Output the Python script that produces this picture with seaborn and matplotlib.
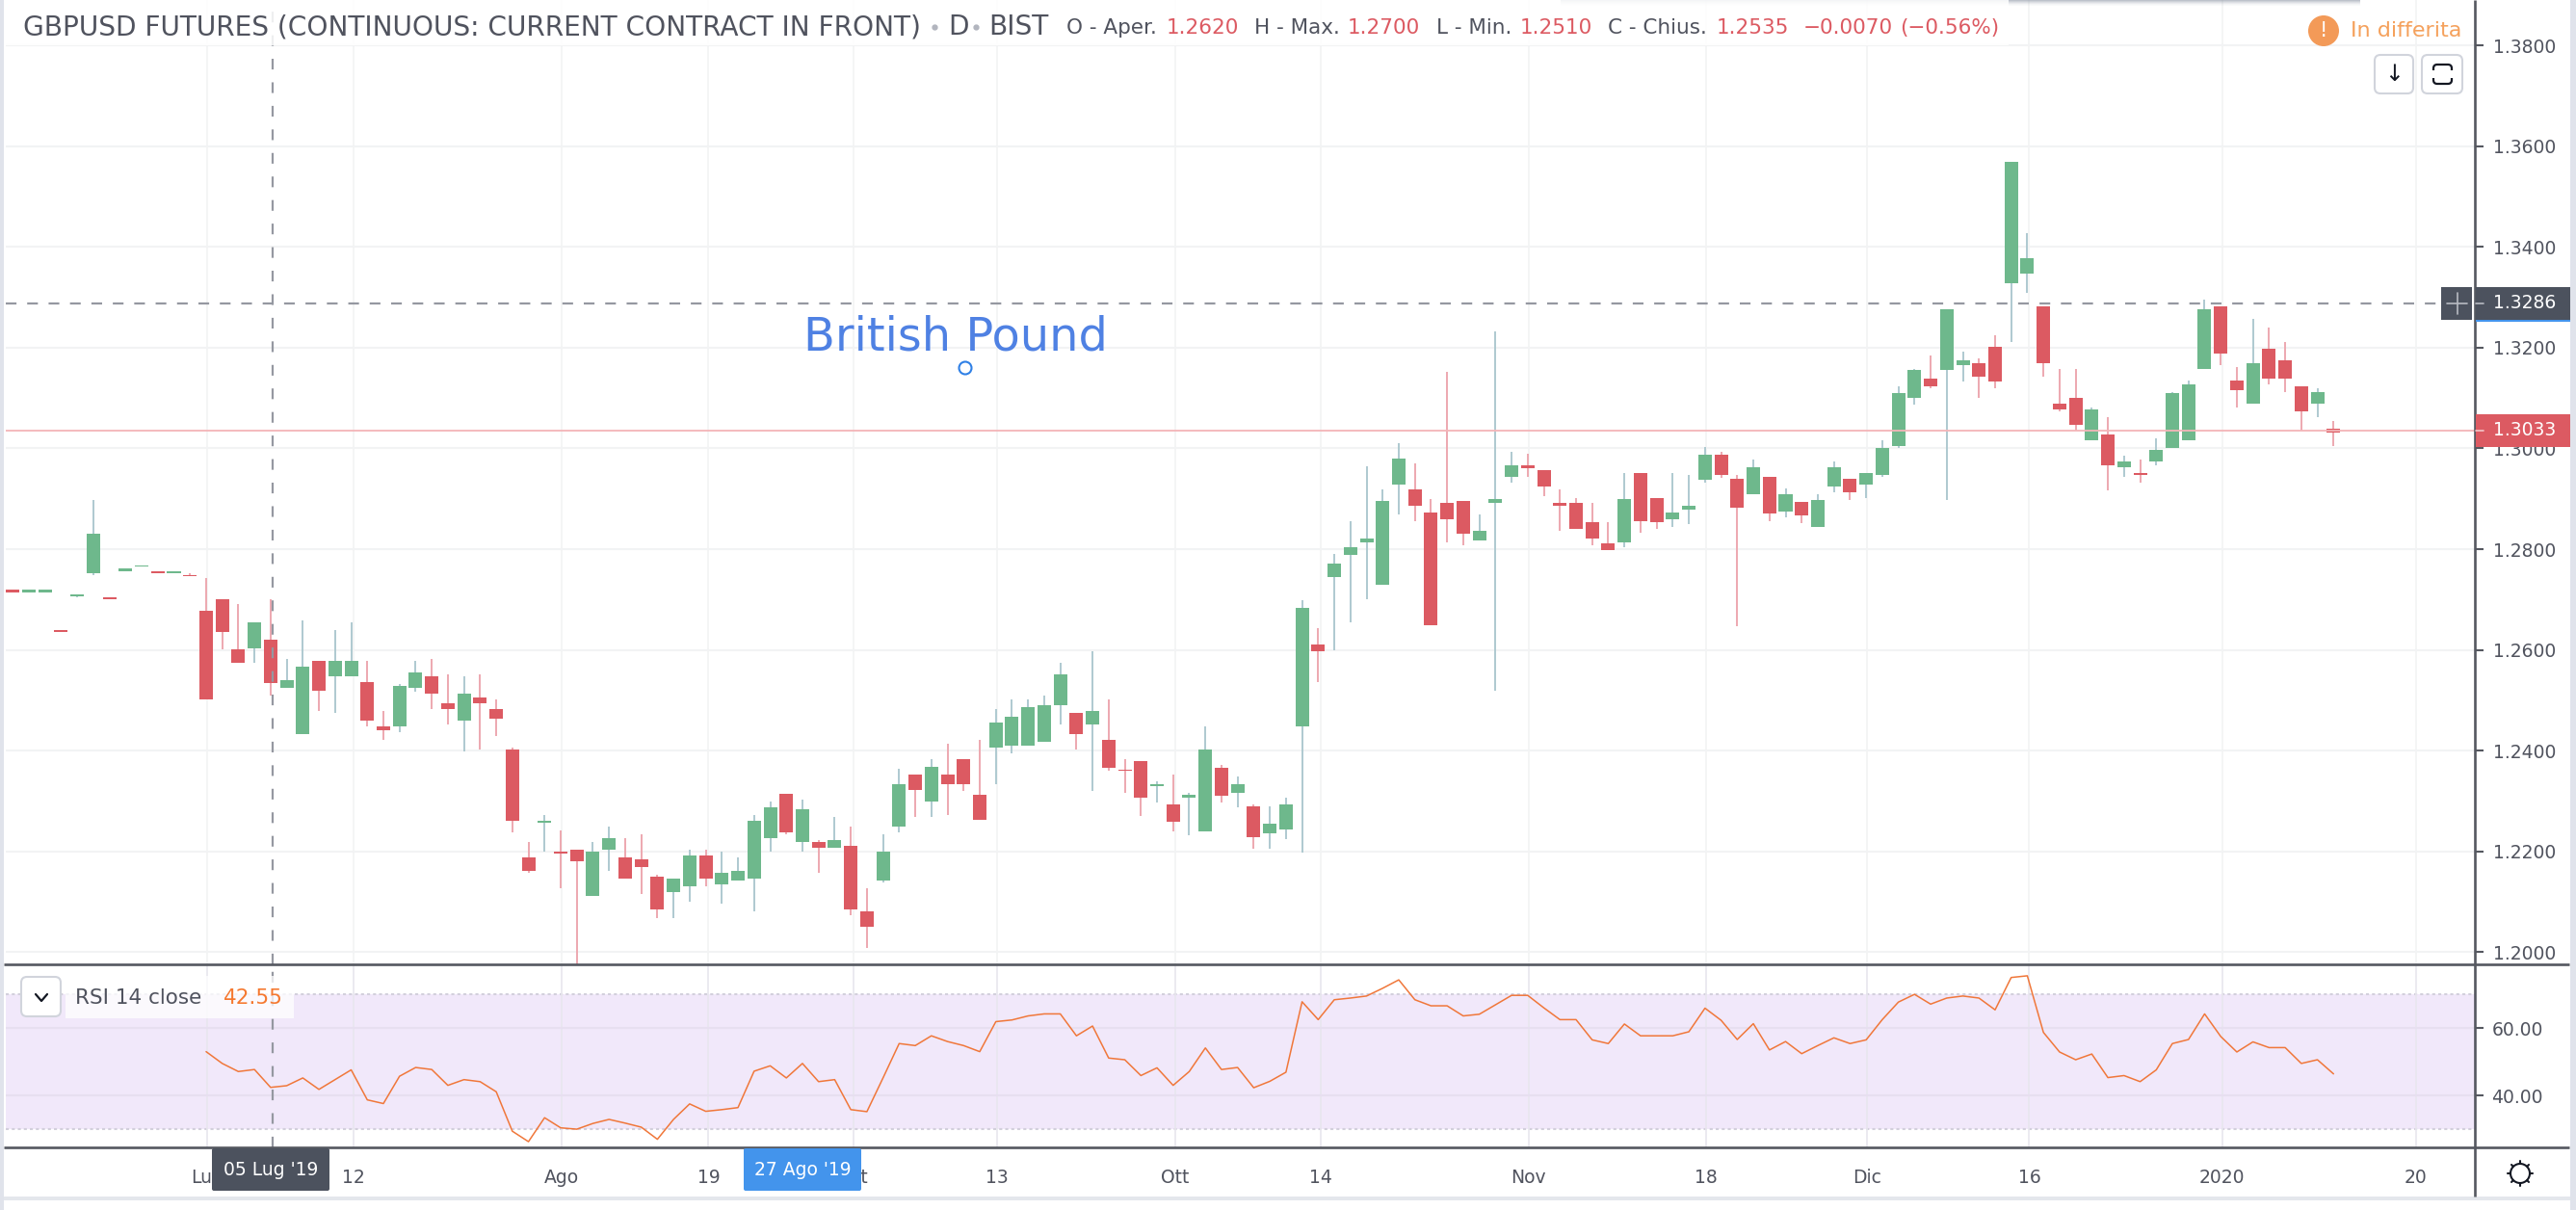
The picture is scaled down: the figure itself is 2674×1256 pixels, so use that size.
import pandas as pd
import matplotlib.pyplot as plt
from matplotlib.patches import FancyBboxPatch, Rectangle, Circle
import seaborn as sns

W, H = 2674, 1256

# daily candles
opens = [
    1.2719, 1.2715, 1.2715, 1.2639, 1.2707, 1.2753, 1.2704, 1.2757, 1.2765, 1.2757,
    1.2753, 1.2749, 1.2677, 1.2700, 1.2601, 1.2604, 1.2620, 1.2524, 1.2433, 1.2578,
    1.2547, 1.2547, 1.2536, 1.2448, 1.2448, 1.2524, 1.2547, 1.2494, 1.2459, 1.2505,
    1.2482, 1.2402, 1.2189, 1.2257, 1.2200, 1.2204, 1.2112, 1.2204, 1.2189, 1.2185,
    1.2150, 1.2120, 1.2131, 1.2192, 1.2135, 1.2143, 1.2147, 1.2227, 1.2314, 1.2219,
    1.2219, 1.2208, 1.2211, 1.2082, 1.2143, 1.2249, 1.2352, 1.2299, 1.2352, 1.2383,
    1.2313, 1.2406, 1.2410, 1.2410, 1.2417, 1.2490, 1.2475, 1.2452, 1.2421, 1.2363,
    1.2379, 1.2329, 1.2294, 1.2306, 1.2240, 1.2367, 1.2317, 1.2290, 1.2237, 1.2244,
    1.2448, 1.2610, 1.2745, 1.2788, 1.2814, 1.2730, 1.2929, 1.2918, 1.2872, 1.2891,
    1.2895, 1.2818, 1.2891, 1.2944, 1.2967, 1.2956, 1.2891, 1.2891, 1.2853, 1.2811,
    1.2814, 1.2952, 1.2902, 1.2860, 1.2879, 1.2937, 1.2987, 1.2940, 1.2909, 1.2944,
    1.2874, 1.2894, 1.2844, 1.2924, 1.2940, 1.2928, 1.2947, 1.3005, 1.3101, 1.3139,
    1.3155, 1.3166, 1.3170, 1.3201, 1.3327, 1.3346, 1.3281, 1.3089, 1.3101, 1.3017,
    1.3028, 1.2963, 1.2951, 1.2974, 1.3001, 1.3017, 1.3158, 1.3281, 1.3135, 1.3089,
    1.3197, 1.3174, 1.3124, 1.3089, 1.3040,
]
highs = [
    1.2719, 1.2719, 1.2719, 1.2639, 1.2711, 1.2898, 1.2704, 1.2761, 1.2768, 1.2757,
    1.2757, 1.2753, 1.2742, 1.2700, 1.2692, 1.2654, 1.2700, 1.2582, 1.2658, 1.2578,
    1.2639, 1.2654, 1.2578, 1.2478, 1.2532, 1.2578, 1.2582, 1.2551, 1.2547, 1.2551,
    1.2501, 1.2406, 1.2219, 1.2272, 1.2242, 1.2204, 1.2219, 1.2249, 1.2227, 1.2234,
    1.2154, 1.2147, 1.2204, 1.2204, 1.2200, 1.2189, 1.2272, 1.2299, 1.2314, 1.2303,
    1.2223, 1.2269, 1.2249, 1.2128, 1.2234, 1.2364, 1.2352, 1.2383, 1.2413, 1.2383,
    1.2421, 1.2483, 1.2502, 1.2502, 1.2510, 1.2575, 1.2475, 1.2598, 1.2502, 1.2383,
    1.2379, 1.2340, 1.2352, 1.2317, 1.2448, 1.2371, 1.2348, 1.2294, 1.2290, 1.2306,
    1.2698, 1.2644, 1.2791, 1.2856, 1.2964, 1.2918, 1.3010, 1.2971, 1.2899, 1.3151,
    1.2895, 1.2868, 1.3232, 1.2994, 1.2990, 1.2956, 1.2918, 1.2902, 1.2891, 1.2853,
    1.2952, 1.2952, 1.2902, 1.2952, 1.2948, 1.3002, 1.2994, 1.2947, 1.2978, 1.2944,
    1.2921, 1.2894, 1.2909, 1.2974, 1.2940, 1.2951, 1.3017, 1.3124, 1.3158, 1.3185,
    1.3277, 1.3193, 1.3178, 1.3224, 1.3569, 1.3427, 1.3281, 1.3158, 1.3158, 1.3082,
    1.3063, 1.2986, 1.2978, 1.3020, 1.3112, 1.3135, 1.3296, 1.3281, 1.3162, 1.3258,
    1.3239, 1.3212, 1.3124, 1.3120, 1.3055,
]
lows = [
    1.2715, 1.2715, 1.2715, 1.2635, 1.2704, 1.2749, 1.2700, 1.2757, 1.2765, 1.2753,
    1.2753, 1.2746, 1.2501, 1.2601, 1.2574, 1.2574, 1.2510, 1.2524, 1.2433, 1.2478,
    1.2475, 1.2547, 1.2448, 1.2421, 1.2436, 1.2517, 1.2482, 1.2452, 1.2398, 1.2402,
    1.2429, 1.2238, 1.2158, 1.2200, 1.2128, 1.1975, 1.2112, 1.2162, 1.2147, 1.2116,
    1.2067, 1.2067, 1.2101, 1.2131, 1.2097, 1.2143, 1.2082, 1.2200, 1.2234, 1.2200,
    1.2158, 1.2208, 1.2074, 1.2009, 1.2139, 1.2238, 1.2269, 1.2269, 1.2272, 1.2321,
    1.2263, 1.2333, 1.2394, 1.2410, 1.2417, 1.2452, 1.2402, 1.2321, 1.2360, 1.2317,
    1.2271, 1.2298, 1.2240, 1.2233, 1.2240, 1.2298, 1.2287, 1.2206, 1.2206, 1.2225,
    1.2198, 1.2537, 1.2600, 1.2654, 1.2700, 1.2730, 1.2868, 1.2856, 1.2650, 1.2814,
    1.2807, 1.2818, 1.2520, 1.2933, 1.2944, 1.2906, 1.2837, 1.2841, 1.2807, 1.2799,
    1.2803, 1.2833, 1.2841, 1.2845, 1.2849, 1.2933, 1.2941, 1.2647, 1.2909, 1.2855,
    1.2863, 1.2851, 1.2844, 1.2913, 1.2897, 1.2901, 1.2944, 1.3001, 1.3086, 1.3120,
    1.2898, 1.3132, 1.3101, 1.3120, 1.3212, 1.3308, 1.3143, 1.3074, 1.3036, 1.3017,
    1.2917, 1.2944, 1.2932, 1.2967, 1.3001, 1.3017, 1.3158, 1.3166, 1.3082, 1.3089,
    1.3128, 1.3112, 1.3035, 1.3063, 1.3005,
]
closes = [
    1.2715, 1.2719, 1.2719, 1.2635, 1.2711, 1.2830, 1.2700, 1.2761, 1.2768, 1.2753,
    1.2757, 1.2746, 1.2501, 1.2635, 1.2574, 1.2654, 1.2535, 1.2540, 1.2566, 1.2520,
    1.2578, 1.2578, 1.2459, 1.2440, 1.2528, 1.2555, 1.2513, 1.2482, 1.2513, 1.2494,
    1.2463, 1.2261, 1.2162, 1.2261, 1.2196, 1.2181, 1.2200, 1.2227, 1.2147, 1.2169,
    1.2086, 1.2147, 1.2192, 1.2147, 1.2158, 1.2162, 1.2261, 1.2288, 1.2238, 1.2284,
    1.2208, 1.2223, 1.2086, 1.2051, 1.2200, 1.2333, 1.2322, 1.2368, 1.2333, 1.2333,
    1.2263, 1.2456, 1.2467, 1.2487, 1.2490, 1.2552, 1.2433, 1.2479, 1.2367, 1.2360,
    1.2306, 1.2333, 1.2260, 1.2313, 1.2402, 1.2310, 1.2333, 1.2229, 1.2256, 1.2294,
    1.2683, 1.2598, 1.2772, 1.2803, 1.2822, 1.2895, 1.2979, 1.2887, 1.2650, 1.2860,
    1.2830, 1.2837, 1.2899, 1.2967, 1.2960, 1.2925, 1.2887, 1.2841, 1.2822, 1.2799,
    1.2899, 1.2856, 1.2853, 1.2872, 1.2887, 1.2987, 1.2948, 1.2882, 1.2963, 1.2871,
    1.2909, 1.2867, 1.2897, 1.2963, 1.2913, 1.2951, 1.3001, 1.3109, 1.3155, 1.3124,
    1.3277, 1.3174, 1.3143, 1.3132, 1.3569, 1.3377, 1.3170, 1.3078, 1.3047, 1.3078,
    1.2967, 1.2974, 1.2948, 1.2997, 1.3109, 1.3128, 1.3277, 1.3189, 1.3116, 1.3170,
    1.3139, 1.3139, 1.3074, 1.3112, 1.3032,
]

# RSI starts on candle 12
rsi_start = 12
rsi_values = [
    53.0, 49.5, 47.1, 47.7, 42.4, 42.9, 45.2, 41.8, 44.7, 47.6,
    38.7, 37.6, 45.7, 48.3, 47.7, 43.0, 44.7, 44.1, 41.1, 29.4,
    26.3, 33.4, 30.4, 30.0, 31.7, 32.9, 31.8, 30.6, 27.0, 32.9,
    37.5, 35.3, 35.8, 36.4, 47.2, 48.8, 45.2, 49.5, 44.1, 44.7,
    35.8, 35.2, 45.2, 55.4, 54.8, 57.7, 56.0, 54.8, 53.0, 61.9,
    62.4, 63.6, 64.2, 64.2, 57.7, 60.6, 51.1, 50.6, 45.9, 48.2,
    43.0, 47.1, 54.1, 47.7, 48.3, 42.3, 44.2, 46.9, 67.8, 62.5,
    68.4, 68.9, 69.5, 71.8, 74.3, 68.4, 66.6, 66.6, 63.6, 64.1,
    66.9, 69.7, 69.7, 66.0, 62.5, 62.5, 56.5, 55.4, 61.2, 57.7,
    57.7, 57.7, 58.9, 65.9, 62.3, 56.6, 61.3, 53.5, 56.0, 52.4,
    54.8, 57.1, 55.4, 56.5, 62.5, 67.7, 70.0, 67.1, 68.9, 69.5,
    68.9, 65.4, 75.0, 75.5, 58.7, 52.9, 50.6, 52.3, 45.3, 45.9,
    44.1, 47.6, 55.4, 56.6, 64.2, 57.5, 52.9, 55.9, 54.2, 54.2,
    49.5, 50.6, 46.4,
]

# time axis, in candle positions
time_pos = [12.08, 21.17, 34.07, 43.17, 52.16, 61.08, 72.12, 81.14, 94.05, 105.04, 115.05, 125.12, 137.08, 149.12]
time_labels = ["Lug", "12", "Ago", "19", "Set", "13", "Ott", "14", "Nov", "18", "Dic", "16", "2020", "20"]

price_ticks = [1.20, 1.22, 1.24, 1.26, 1.28, 1.30, 1.32, 1.34, 1.36, 1.38]
rsi_ticks = [40, 60]

UP = "#6eb88c"
DOWN = "#dc5a62"
UP_WICK = "#aec9d0"
DOWN_WICK = "#eda8b0"
GRID = "#f2f3f4"
AXIS = "#555860"
TEXT = "#50535e"
DARK_TAG = "#4c525e"
BLUE_TAG = "#4394ec"
CROSS = "#9598a1"

candles = pd.DataFrame({"open": opens, "high": highs, "low": lows, "close": closes})
candles["pos"] = candles.index
candles["up"] = candles["close"] >= candles["open"]
rsi = pd.DataFrame({"pos": range(rsi_start, rsi_start + len(rsi_values)), "rsi": rsi_values})

sns.set_theme(style="white")
plt.rcParams["font.family"] = "DejaVu Sans"
fig = plt.figure(figsize=(W / 100, H / 100), dpi=100, facecolor="white")


def pane(x0, y0, x1, y1):
    return fig.add_axes([x0 / W, 1 - y1 / H, (x1 - x0) / W, (y1 - y0) / H])


# candle pane
ax = pane(6, 0, 2569, 1001)
x_lim = ((6 - 13.2) / 16.73, (2569 - 13.2) / 16.73)
ax.set_xlim(x_lim)
ax.set_ylim(1.19761, 1.38899)
ax.set_xticks(time_pos)
ax.set_xticklabels([])
ax.tick_params(axis="x", length=0)
ax.yaxis.tick_right()
ax.set_yticks(price_ticks)
ax.set_yticklabels([f"{t:.4f}" for t in price_ticks])
ax.tick_params(axis="y", length=6.5, width=1.5, color=AXIS, labelcolor=TEXT, labelsize=13.5, pad=7)
ax.grid(True, axis="y", color=GRID, lw=1.5)
ax.grid(True, axis="x", color=GRID, lw=1.2)
ax.set_axisbelow(True)
sns.despine(ax=ax, left=True, right=True, top=True, bottom=True)

for is_up, wick, body in [(True, UP_WICK, UP), (False, DOWN_WICK, DOWN)]:
    part = candles[candles["up"] == is_up]
    ax.vlines(part["pos"], part["low"], part["high"], color=wick, lw=1.4, zorder=2)
    ax.bar(part["pos"], (part["close"] - part["open"]).abs(), bottom=part[["open", "close"]].min(axis=1),
           width=0.837, color=body, lw=0, zorder=3)

# last price and crosshair
ax.axhline(1.3036, color="#f3b4b8", lw=1.3, zorder=4)
ax.plot([x_lim[0], (2534 - 13.2) / 16.73], [1.3288, 1.3288], color=CROSS, lw=1.6, dashes=(5, 5), zorder=4)
ax.axvline((283 - 13.2) / 16.73, color=CROSS, lw=1.6, dashes=(5, 6), zorder=4)

# RSI pane
ax_rsi = pane(6, 1001, 2569, 1191)
ax_rsi.set_xlim(x_lim)
ax_rsi.set_ylim(24.6, 78.9)
ax_rsi.axhspan(30, 70, color="#f1e8fa", lw=0, zorder=0)
for level in [30, 70]:
    ax_rsi.axhline(level, color="#d3d0dc", lw=1.5, dashes=(1.5, 1.5), zorder=1)
ax_rsi.set_xticks(time_pos)
ax_rsi.set_xticklabels(time_labels)
ax_rsi.yaxis.tick_right()
ax_rsi.set_yticks(rsi_ticks)
ax_rsi.set_yticklabels([f"{t:.2f}" for t in rsi_ticks])
ax_rsi.tick_params(axis="y", length=6.5, width=1.5, color=AXIS, labelcolor=TEXT, labelsize=13.5, pad=6)
ax_rsi.tick_params(axis="x", length=5.5, width=1.5, color=AXIS, labelcolor=TEXT, labelsize=13.5, pad=10)
ax_rsi.grid(True, axis="y", color="#e7dff0", lw=1.5, zorder=1)
ax_rsi.grid(True, axis="x", color="#e8e6ee", lw=1.2, zorder=1)
ax_rsi.set_axisbelow(False)
sns.lineplot(data=rsi, x="pos", y="rsi", color="#f0773a", lw=1.1, ax=ax_rsi, zorder=3)
ax_rsi.set_xlabel("")
ax_rsi.set_ylabel("")
ax_rsi.axvline((283 - 13.2) / 16.73, color=CROSS, lw=1.6, dashes=(5, 6), zorder=4)
sns.despine(ax=ax_rsi, left=True, right=True, top=True, bottom=True)

# everything around the panes, in image pixels
ui = fig.add_axes([0, 0, 1, 1], zorder=10)
ui.set_xlim(0, W)
ui.set_ylim(H, 0)
ui.axis("off")
ui.patch.set_alpha(0)


def box(x0, y0, x1, y1, color, alpha=1.0, zorder=2):
    ui.add_patch(Rectangle((x0, y0), x1 - x0, y1 - y0, fc=color, ec="none", alpha=alpha, zorder=zorder))


def button(x0, y0, x1, y1):
    ui.add_patch(FancyBboxPatch((x0 + 5, y0 + 5), x1 - x0 - 10, y1 - y0 - 10, boxstyle="round,pad=5,rounding_size=6",
                                fc="white", ec="#d1d4dc", lw=1.5, zorder=3))


# frame
box(0, 0, 4, H, "#e0e3eb", zorder=1)
box(2668, 0, W, H, "#e0e3eb", zorder=1)
box(4, 1242, 2668, 1246, "#e4e7ec", zorder=1)
ui.plot([4, 2667], [1001, 1001], color=AXIS, lw=1.9, zorder=2, solid_capstyle="butt")
ui.plot([4, 2667], [1191, 1191], color=AXIS, lw=1.9, zorder=2, solid_capstyle="butt")
ui.plot([2569, 2569], [0, 1242], color=AXIS, lw=1.9, zorder=2, solid_capstyle="butt")

# popup shadow along the top edge
for i, a in enumerate([0.5, 0.38, 0.26, 0.16, 0.08, 0.04]):
    box(1620, i, 2450, i + 1, "#7d8798", alpha=a, zorder=1)

# header
box(6, 0, 2085, 47, "white", alpha=0.85, zorder=1)
ui.text(24, 28, "GBPUSD FUTURES (CONTINUOUS: CURRENT CONTRACT IN FRONT)", fontsize=20.2, color=TEXT, va="center")
ui.text(984, 28, "D", fontsize=20.2, color=TEXT, va="center")
ui.text(1026, 28, "BIST", fontsize=20.2, color=TEXT, va="center")
ui.plot([970, 1013], [28, 28], ls="none", marker="o", ms=3.5, color="#b2b5be", zorder=3)

for x, label in [(1107, "O - Aper."), (1302, "H - Max."), (1491, "L - Min."), (1669, "C - Chius.")]:
    ui.text(x, 29, label, fontsize=15.5, color=TEXT, va="center")
for x, value in [(1211, "1.2620"), (1399, "1.2700"), (1578, "1.2510"), (1782, "1.2535"),
                 (1872, "\u22120.0070"), (1972, "(\u22120.56%)")]:
    ui.text(x, 29, value, fontsize=15.5, color=DOWN, va="center")

ui.add_patch(Circle((2412, 32), 16, fc="#f39a58", ec="none", zorder=3))
ui.text(2412, 32, "!", fontsize=15, color="white", ha="center", va="center", zorder=4)
ui.text(2440, 32, "In differita", fontsize=16, color="#f5a15c", va="center")

button(2465, 57, 2505, 97)
ui.text(2485, 77, "\u2193", fontsize=17, color="#131722", ha="center", va="center", zorder=4)
button(2514, 57, 2556, 97)
ui.add_patch(FancyBboxPatch((2526, 67), 19, 20, boxstyle="round,pad=0,rounding_size=4", fc="none", ec="#131722",
                            lw=1.6, zorder=4))
box(2522, 73, 2549, 81, "white", zorder=5)

# annotation
ui.text(834, 350, "British Pound", fontsize=34.5, color="#4f81e3", va="center")
ui.add_patch(Circle((1002, 382), 6.5, fc="white", ec="#2f80e6", lw=1.5, zorder=3))

# price tags
box(2570, 298, 2668, 332, DARK_TAG, zorder=3)
box(2570, 332, 2668, 334, BLUE_TAG, zorder=3)
box(2534, 298, 2566, 332, DARK_TAG, zorder=3)
ui.plot([2540, 2561], [315, 315], color="#b8bbc2", lw=1.2, zorder=4)
ui.plot([2551, 2551], [304, 326], color="#b8bbc2", lw=1.2, zorder=4)
ui.plot([2570, 2578], [315, 315], color="#b8bbc2", lw=1.2, zorder=4)
ui.text(2588, 315, "1.3286", fontsize=13.5, color="white", va="center", zorder=4)

box(2570, 430, 2668, 464, DOWN, zorder=3)
ui.plot([2570, 2578], [447, 447], color="#f4c6c9", lw=1.2, zorder=4)
ui.text(2588, 447, "1.3033", fontsize=13.5, color="white", va="center", zorder=4)

# RSI legend
box(68, 1013, 305, 1057, "white", alpha=0.75, zorder=2)
button(22, 1014, 63, 1055)
ui.plot([37, 43, 49], [1032, 1039, 1032], color="#131722", lw=1.6, zorder=4)
ui.text(78, 1036, "RSI 14 close", fontsize=15.5, color=TEXT, va="center", zorder=4)
ui.text(232, 1036, "42.55", fontsize=15.5, color="#f5782f", va="center", zorder=4)

# time tags over the axis labels
for x0, x1, color, label in [(220, 342, DARK_TAG, "05 Lug '19"), (772, 894, BLUE_TAG, "27 Ago '19")]:
    ui.add_patch(FancyBboxPatch((x0 + 2, 1194), x1 - x0 - 4, 40, boxstyle="round,pad=2,rounding_size=2",
                                fc=color, ec="none", zorder=3))
    ui.text((x0 + x1) / 2, 1214, label, fontsize=13.5, color="white", ha="center", va="center", zorder=4)

# settings gear
ui.add_patch(Circle((2616, 1218), 10, fc="none", ec="#131722", lw=1.5, zorder=3))
for dx, dy in [(0, -13), (0, 13), (-13, 0), (13, 0), (-9, -9), (9, -9), (-9, 9), (9, 9)]:
    ui.plot([2616 + dx * 0.8, 2616 + dx], [1218 + dy * 0.8, 1218 + dy], color="#131722", lw=1.5, zorder=3)

fig.savefig("out.png", dpi=100)
